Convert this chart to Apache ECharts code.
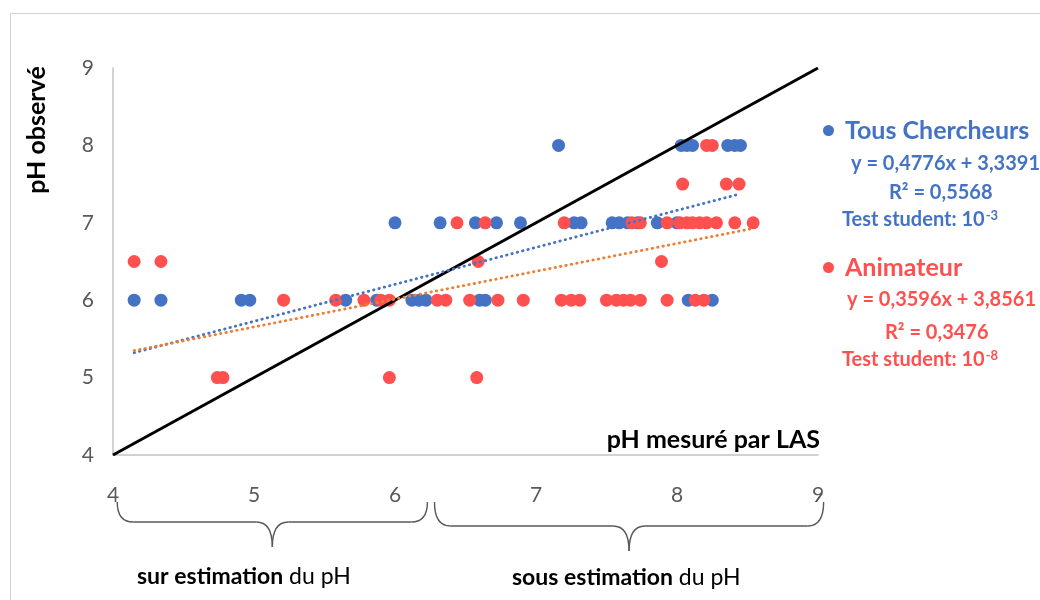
<!DOCTYPE html>
<html>
<head>
<meta charset="utf-8">
<script src="https://cdn.jsdelivr.net/npm/echarts@6/dist/echarts.min.js"></script>
<style>
  html, body { margin: 0; padding: 0; background: #fff; }
  #chart { width: 1040px; height: 600px; }
</style>
</head>
<body>
<div id="chart"></div>
<script>
// pH observé vs pH mesuré par LAS, one row of arrays per observed value
const chercheursY6 = [4.15, 4.34, 4.91, 4.97, 5.65, 5.87, 6.12, 6.17, 6.22, 6.60, 6.64, 8.08, 8.25];
const chercheursY7 = [6.00, 6.32, 6.57, 6.72, 6.89, 7.27, 7.32, 7.54, 7.59, 7.65, 7.72, 7.86, 8.00];
const chercheursY8 = [7.16, 8.03, 8.07, 8.11, 8.36, 8.41, 8.45];

const animateurY5 = [4.74, 4.78, 5.96, 6.58];
const animateurY6 = [5.21, 5.58, 5.78, 5.90, 5.96, 6.30, 6.36, 6.53, 6.73, 6.91, 7.18, 7.25, 7.31, 7.50, 7.57, 7.62, 7.67, 7.74, 7.93, 8.13, 8.19];
const animateurY65 = [4.15, 4.34, 6.59, 7.89];
const animateurY7 = [6.44, 6.64, 7.20, 7.68, 7.74, 7.93, 8.02, 8.07, 8.11, 8.16, 8.21, 8.28, 8.41, 8.54];
const animateurY75 = [8.04, 8.35, 8.44];
const animateurY8 = [8.21, 8.25];

// linear fits: [slope, intercept, R²]
const fitChercheurs = [0.4776, 3.3391, 0.5568];
const fitAnimateur = [0.3596, 3.8561, 0.3476];

const axisMin = 4, axisMax = 9;

const BLUE = '#4472C4';
const RED = '#FF5050';
const ORANGE = '#ED7D31';
const FONT = 'Lato, "Open Sans", sans-serif';

function rows(spec) {
  const out = [];
  spec.forEach(([y, xs]) => xs.forEach(x => out.push([x, y])));
  return out;
}
const tousChercheurs = rows([[6, chercheursY6], [7, chercheursY7], [8, chercheursY8]]);
const animateur = rows([[5, animateurY5], [6, animateurY6], [6.5, animateurY65], [7, animateurY7], [7.5, animateurY75], [8, animateurY8]]);

function trend(points, fit) {
  const xs = points.map(p => p[0]);
  const lo = Math.min(...xs), hi = Math.max(...xs);
  return [[lo, fit[0] * lo + fit[1]], [hi, fit[0] * hi + fit[1]]];
}
const fmt = v => String(v).replace('.', ',');

const chart = echarts.init(document.getElementById('chart'));

const option = {
  animation: false,
  backgroundColor: '#fff',
  grid: { left: 113, right: 222, top: 68, bottom: 145 },
  xAxis: {
    type: 'value', min: axisMin, max: axisMax, interval: 1,
    axisLine: { show: true, lineStyle: { color: '#c4c4c4', width: 1.5 } },
    axisTick: { show: false },
    splitLine: { show: false },
    axisLabel: { margin: 30, fontSize: 21, color: '#595959', fontFamily: FONT }
  },
  yAxis: {
    type: 'value', min: axisMin, max: axisMax, interval: 1,
    axisLine: { show: true, lineStyle: { color: '#c4c4c4', width: 1.5 } },
    axisTick: { show: false },
    splitLine: { show: false },
    axisLabel: { margin: 19, fontSize: 21, color: '#595959', fontFamily: FONT }
  },
  legend: [
    {
      data: ['Tous Chercheurs'], left: 823, top: 118, padding: 0,
      icon: 'circle', itemWidth: 11, itemHeight: 11,
      textStyle: { fontSize: 25, fontWeight: 'bold', color: BLUE, fontFamily: FONT, padding: [0, 0, 0, 6] }
    },
    {
      data: ['Animateur'], left: 823, top: 255, padding: 0,
      icon: 'circle', itemWidth: 11, itemHeight: 11,
      textStyle: { fontSize: 25, fontWeight: 'bold', color: RED, fontFamily: FONT, padding: [0, 0, 0, 6] }
    }
  ],
  series: [
    {
      name: 'Tous Chercheurs', type: 'scatter', data: tousChercheurs,
      symbolSize: 13, itemStyle: { color: BLUE, opacity: 1 }, z: 3
    },
    {
      name: 'Animateur', type: 'scatter', data: animateur,
      symbolSize: 13, itemStyle: { color: RED, opacity: 1 }, z: 4
    },
    {
      name: 'y = x', type: 'line', data: [[axisMin, axisMin], [axisMax, axisMax]],
      showSymbol: false, lineStyle: { color: '#000', width: 3 }, z: 5, silent: true
    },
    {
      name: 'tendance chercheurs', type: 'line', data: trend(tousChercheurs, fitChercheurs),
      showSymbol: false, z: 6, silent: true,
      lineStyle: { color: BLUE, width: 2.8, type: [0.5, 5], cap: 'round' }
    },
    {
      name: 'tendance animateur', type: 'line', data: trend(animateur, fitAnimateur),
      showSymbol: false, z: 6, silent: true,
      lineStyle: { color: ORANGE, width: 2.8, type: [0.5, 5], cap: 'round' }
    }
  ]
};
chart.setOption(option);

// curly brace built from quadratic curves and straight segments
function brace(x0, x1, yTop, yFlat, yTip) {
  const xm = (x0 + x1) / 2;
  const r = 16;
  const st = { fill: 'none', stroke: '#595959', lineWidth: 1.4 };
  const q = (a, b, c, d, e, f) => ({ type: 'bezierCurve', shape: { x1: a, y1: b, cpx1: c, cpy1: d, x2: e, y2: f }, style: st });
  const l = (a, b, c, d) => ({ type: 'line', shape: { x1: a, y1: b, x2: c, y2: d }, style: st });
  return {
    type: 'group',
    children: [
      q(x0, yTop, x0, yFlat, x0 + r, yFlat),
      l(x0 + r, yFlat, xm - r, yFlat),
      q(xm - r, yFlat, xm, yFlat, xm, yTip),
      q(xm, yTip, xm, yFlat, xm + r, yFlat),
      l(xm + r, yFlat, x1 - r, yFlat),
      q(x1 - r, yFlat, x1, yFlat, x1, yTop)
    ]
  };
}
const px = v => chart.convertToPixel({ gridIndex: 0 }, [v, axisMin])[0];

const supRich = (color) => ({
  b: { fontSize: 20, fontWeight: 'bold', fill: color, fontFamily: FONT },
  sup: { fontSize: 13, fontWeight: 'bold', fill: color, fontFamily: FONT, verticalAlign: 'top', padding: [0, 0, 8, 1] }
});

function label(x, y, text, size, color) {
  return {
    type: 'text', x, y,
    style: {
      text, fontSize: size, fontWeight: 'bold', fill: color, fontFamily: FONT,
      verticalAlign: 'middle', align: 'left'
    }
  };
}

const captionRich = {
  b: { fontSize: 23, fontWeight: 'bold', fill: '#000', fontFamily: FONT },
  n: { fontSize: 23, fontWeight: 'normal', fill: '#000', fontFamily: FONT }
};

chart.setOption({
  graphic: [
    {
      type: 'rect', shape: { x: 10.5, y: 13.5, width: 1100, height: 700 },
      style: { fill: 'none', stroke: '#d0d0d0', lineWidth: 1 }, silent: true, z: -10
    },
    {
      type: 'text', x: 37, y: 130, rotation: Math.PI / 2,
      style: { text: 'pH observé', fontSize: 25, fontWeight: 'bold', fill: '#000', fontFamily: FONT, align: 'center', verticalAlign: 'middle' }
    },
    {
      type: 'text', x: 820, y: 440,
      style: { text: 'pH mesuré par LAS', fontSize: 25, fontWeight: 'bold', fill: '#000', fontFamily: FONT, align: 'right', verticalAlign: 'middle' }
    },
    brace(px(4.03), px(6.23), 502, 522, 547),
    brace(px(6.28), px(9.04), 502, 526, 551),
    {
      type: 'text', x: 137, y: 577,
      style: { text: '{b|sur estimation}{n| du pH}', verticalAlign: 'middle', rich: captionRich }
    },
    {
      type: 'text', x: 512, y: 578,
      style: { text: '{b|sous estimation}{n| du pH}', verticalAlign: 'middle', rich: captionRich }
    },
    label(851, 164, `y = ${fmt(fitChercheurs[0])}x + ${fmt(fitChercheurs[1])}`, 20, BLUE),
    label(889, 193, `R² = ${fmt(fitChercheurs[2])}`, 20, BLUE),
    {
      type: 'text', x: 842, y: 220,
      style: { text: '{b|Test student: 10}{sup|-3}', verticalAlign: 'middle', rich: supRich(BLUE) }
    },
    label(847, 300, `y = ${fmt(fitAnimateur[0])}x + ${fmt(fitAnimateur[1])}`, 20, RED),
    label(885, 333, `R² = ${fmt(fitAnimateur[2])}`, 20, RED),
    {
      type: 'text', x: 842, y: 360,
      style: { text: '{b|Test student: 10}{sup|-8}', verticalAlign: 'middle', rich: supRich(RED) }
    }
  ]
});
</script>
</body>
</html>
